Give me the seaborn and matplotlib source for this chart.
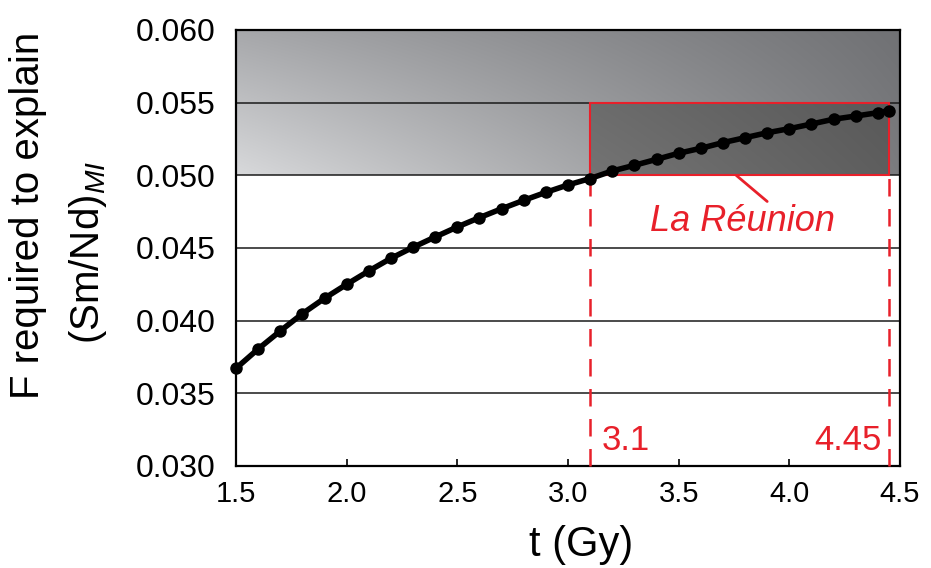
import numpy as np
import pandas as pd
import matplotlib
matplotlib.use("Agg")
import matplotlib.pyplot as plt
import seaborn as sns
from matplotlib.patches import Rectangle

# ---- data ----
t_gy = [1.5, 1.6, 1.7, 1.8, 1.9, 2.0, 2.1, 2.2, 2.3, 2.4, 2.5, 2.6, 2.7, 2.8,
        2.9, 3.0, 3.1, 3.2, 3.3, 3.4, 3.5, 3.6, 3.7, 3.8, 3.9, 4.0, 4.1, 4.2,
        4.3, 4.4, 4.45]
f_req = [0.03672, 0.03805, 0.03929, 0.04048, 0.04154, 0.04250, 0.04342,
         0.04429, 0.04505, 0.04576, 0.04645, 0.04709, 0.04770, 0.04828,
         0.04883, 0.04934, 0.04978, 0.05030, 0.05069, 0.05110, 0.05152,
         0.05186, 0.05225, 0.05259, 0.05293, 0.05321, 0.05353, 0.05386,
         0.05408, 0.05431, 0.05445]
x_ticks = [1.5, 2.0, 2.5, 3.0, 3.5, 4.0, 4.5]
y_ticks = [0.030, 0.035, 0.040, 0.045, 0.050, 0.055, 0.060]
grid_levels = [0.035, 0.040, 0.045, 0.050, 0.055]
band_range = (0.050, 0.060)          # required range (grey band)
reunion_t = (3.1, 4.45)              # La Réunion age window
reunion_f = (0.050, 0.055)           # La Réunion Sm/Nd window
reunion_labels = ["3.1", "4.45"]

sns.set_style("white")
plt.rcParams['font.family'] = ['Liberation Sans', 'DejaVu Sans']
plt.rcParams['mathtext.fontset'] = 'custom'
plt.rcParams['mathtext.it'] = 'Liberation Sans:italic'
plt.rcParams['mathtext.rm'] = 'Liberation Sans'
plt.rcParams['text.color'] = 'black'
plt.rcParams['xtick.color'] = 'black'
plt.rcParams['ytick.color'] = 'black'

fig = plt.figure(figsize=(9.31, 5.68), dpi=100)
ax = fig.add_axes([0.2535, 0.1796, 0.7132, 0.7676])

red = '#e8202a'

def bilinear(c_bl, c_tl, c_br, c_tr, n=200):
    u = np.linspace(0, 1, n)[None, :, None]
    v = np.linspace(0, 1, n)[:, None, None]
    c_bl, c_tl, c_br, c_tr = [np.array(matplotlib.colors.to_rgb(c))[None, None, :]
                              for c in (c_bl, c_tl, c_br, c_tr)]
    img = (c_bl * (1 - u) * (1 - v) + c_br * u * (1 - v)
           + c_tl * (1 - u) * v + c_tr * u * v)
    return img

g1 = bilinear('#d8d9db', '#a6a7aa', '#7b7c7f', '#707174')
ax.imshow(g1, extent=[x_ticks[0], x_ticks[-1], band_range[0], band_range[1]],
          origin='lower', aspect='auto', zorder=0, interpolation='bilinear')
g2 = bilinear('#747474', '#6c6c6c', '#5e5e5e', '#595959')
ax.imshow(g2, extent=[reunion_t[0], reunion_t[1], reunion_f[0], reunion_f[1]],
          origin='lower', aspect='auto', zorder=1, interpolation='bilinear')

for g in grid_levels:
    ax.axhline(g, color='#1a1a1a', lw=1.1, zorder=2)

ax.add_patch(Rectangle((reunion_t[0], reunion_f[0]), reunion_t[1] - reunion_t[0],
                       reunion_f[1] - reunion_f[0], fill=False, edgecolor=red,
                       lw=1.5, zorder=3))
for xv in reunion_t:
    ax.plot([xv, xv], [y_ticks[0], reunion_f[0]], color=red, lw=1.8,
            dashes=(7, 5), zorder=3, clip_on=False)

df = pd.DataFrame({'t': t_gy, 'F': f_req})
sns.lineplot(data=df, x='t', y='F', ax=ax, color='black', lw=4, marker='o',
             markersize=9, markeredgewidth=0, zorder=5, clip_on=False)

ax.set_xlim(x_ticks[0], x_ticks[-1])
ax.set_ylim(y_ticks[0], y_ticks[-1])
ax.set_xticks(x_ticks)
ax.set_xticklabels([f"{v:.1f}" for v in x_ticks], fontsize=21)
ax.set_yticks(y_ticks)
ax.set_yticklabels([f"{v:.3f}" for v in y_ticks], fontsize=23)
ax.tick_params(axis='x', direction='in', length=5, width=1.2, pad=10, bottom=True)
ax.tick_params(axis='y', length=0, pad=15)
ax.set_xlabel('')
ax.set_ylabel('')
for s in ax.spines.values():
    s.set_color('black')
    s.set_linewidth(1.6)
    s.set_visible(True)

ax.text(3.15, 0.0306, reunion_labels[0], color=red, fontsize=25, ha='left', va='bottom')
ax.text(4.415, 0.0306, reunion_labels[1], color=red, fontsize=25, ha='right', va='bottom')
ax.plot([3.76, 3.90], [0.0500, 0.0482], color=red, lw=2, zorder=4)
ax.text(3.79, 0.0468, 'La Réunion', color=red, fontsize=26, style='italic',
        ha='center', va='center')

fig.text(0.624, 0.040, 't (Gy)', fontsize=30, ha='center', va='center')
fig.text(0.030, 0.62, 'F required to explain', fontsize=29, rotation=90,
         ha='center', va='center')
fig.text(0.094, 0.555, r'(Sm/Nd)$_{\mathit{MI}}$', fontsize=29, rotation=90,
         ha='center', va='center')

fig.savefig('out.png', dpi=100)
